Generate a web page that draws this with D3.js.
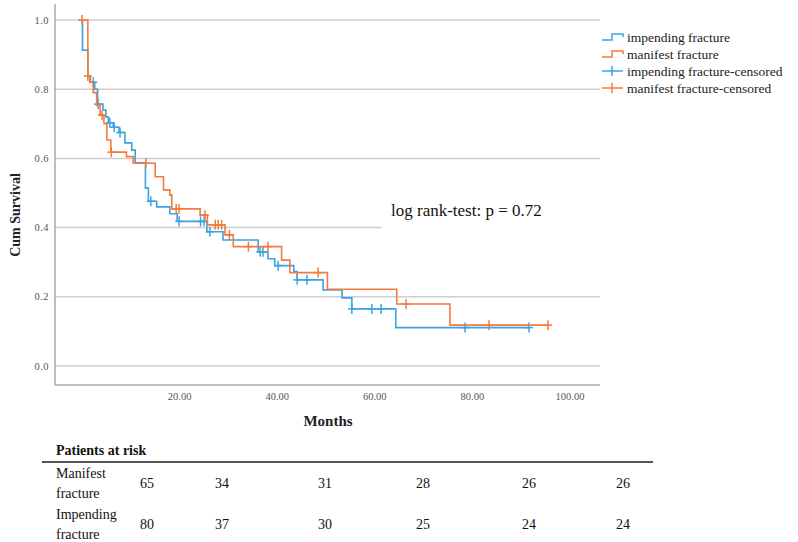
<!DOCTYPE html>
<html><head><meta charset="utf-8">
<script src="https://cdn.jsdelivr.net/npm/d3@7/dist/d3.min.js"></script>
<style>body{margin:0;background:#fff}svg{display:block}
svg text{font-family:"Liberation Serif","DejaVu Serif",serif}</style>
</head><body><svg id="c" width="798" height="542"></svg>
<script>
// ---- data ----
const impTimes = [0, 0.1, 1.2, 1.7, 2.6, 3.2, 4.3, 4.9, 5.4, 6.4, 7.6, 8.8, 10.2, 10.9, 13.0, 13.6, 15.3, 18.0, 19.5, 25.6, 28.9, 36.1, 38.1, 39.5, 43.4, 44.1, 49.4, 53.3, 55.3, 64.3];
const impSurv  = [1.0, 0.913, 0.838, 0.82, 0.80, 0.757, 0.74, 0.72, 0.703, 0.69, 0.675, 0.645, 0.624, 0.587, 0.514, 0.476, 0.46, 0.44, 0.418, 0.388, 0.364, 0.33, 0.31, 0.29, 0.273, 0.249, 0.22, 0.197, 0.165, 0.111];
const impCensored = [2.3, 3.3, 5.7, 6.6, 7.8, 14.1, 19.9, 24.3, 25.0, 26.2, 36.5, 37.1, 40.2, 44.1, 46.1, 55.3, 59.4, 61.3, 78.5, 91.6];
const manTimes = [0, 1.2, 1.6, 2.3, 3.0, 3.7, 4.5, 5.1, 5.9, 9.1, 10.5, 15.0, 16.7, 18.0, 18.4, 24.2, 25.7, 29.3, 31.0, 40.9, 42.6, 50.3, 64.5, 75.4];
const manSurv  = [1.0, 0.838, 0.82, 0.79, 0.754, 0.725, 0.70, 0.653, 0.618, 0.605, 0.586, 0.547, 0.509, 0.494, 0.454, 0.436, 0.408, 0.379, 0.345, 0.306, 0.27, 0.222, 0.179, 0.118];
const manCensored = [0, 1.2, 4.1, 6.0, 13.1, 19.3, 19.9, 25.2, 27.3, 27.9, 28.6, 30.2, 34.1, 38.1, 48.4, 66.4, 83.4, 95.5];
const xTicks = [20, 40, 60, 80, 100];
const yTicks = [0, 0.2, 0.4, 0.6, 0.8, 1.0];
const legendLabels = ["impending fracture", "manifest fracture", "impending fracture-censored", "manifest fracture-censored"];
const riskRows = ["Manifest\nfracture", "Impending\nfracture"];
const riskManifest = [65, 34, 31, 28, 26, 26];
const riskImpending = [80, 37, 30, 25, 24, 24];
const pText = "log rank-test: p = 0.72";

// ---- layout ----
const BLUE = "#3aa3e3", ORANGE = "#f47a3e";
const riskColX = [147, 222, 325, 423, 529, 623];

const svg = d3.select("#c");
const x = d3.scaleLinear().domain([0, 100]).range([82, 570]);
const y = d3.scaleLinear().domain([0, 1]).range([366, 20]);
const left = 55, right = 600, bottom = 385;

// gridlines
svg.append("g").selectAll("line").data(yTicks).join("line")
  .attr("x1", left).attr("x2", right)
  .attr("y1", d => y(d)).attr("y2", d => y(d))
  .attr("stroke", "#cfcfcf").attr("stroke-width", 1.5);

// white box behind annotation (hides part of the 0.4 gridline)
svg.append("rect").attr("x", 382).attr("y", 190).attr("width", right - 382 + 1).attr("height", 45).attr("fill", "#fff");

// axes lines
svg.append("line").attr("x1", left).attr("x2", left).attr("y1", 4).attr("y2", bottom)
  .attr("stroke", "#a8a8a8").attr("stroke-width", 1.5);
svg.append("line").attr("x1", left).attr("x2", right).attr("y1", bottom).attr("y2", bottom)
  .attr("stroke", "#a8a8a8").attr("stroke-width", 1.5);

// tick labels
svg.append("g").selectAll("text").data(yTicks).join("text")
  .attr("x", 49).attr("y", d => y(d)).attr("dy", "0.35em")
  .attr("text-anchor", "end").attr("font-size", 10.5)
  .attr("fill", "#555").attr("letter-spacing", "0.5px").text(d => d.toFixed(1));
svg.append("g").selectAll("text").data(xTicks).join("text")
  .attr("x", d => x(d)).attr("y", 396).attr("dy", "0.35em")
  .attr("text-anchor", "middle").attr("font-size", 10.5)
  .attr("fill", "#555").text(d => d.toFixed(2));

// axis titles
svg.append("text").attr("transform", "translate(15,215) rotate(-90)")
  .attr("text-anchor", "middle").attr("dy", "0.35em")
  .attr("font-weight", "bold").attr("font-size", 14).attr("fill", "#222").text("Cum Survival");
svg.append("text").attr("x", 328).attr("y", 421).attr("dy", "0.35em").attr("text-anchor", "middle")
  .attr("font-weight", "bold").attr("font-size", 15).attr("fill", "#222").text("Months");

// curves
function stepAt(times, surv, t) {
  let v = surv[0];
  for (let i = 0; i < times.length; i++) if (times[i] <= t) v = surv[i];
  return v;
}
function drawCurve(times, surv, cens, color) {
  const pts = times.map((t, i) => [t, surv[i]]);
  const lastT = d3.max(cens.concat(times));
  pts.push([lastT, surv[surv.length - 1]]);
  const line = d3.line().x(d => x(d[0])).y(d => y(d[1])).curve(d3.curveStepAfter);
  svg.append("path").attr("d", line(pts)).attr("fill", "none")
    .attr("stroke", color).attr("stroke-width", 1.6);
  const g = svg.append("g").attr("stroke", color).attr("stroke-width", 1.5);
  cens.forEach(t => {
    const cx = x(t), cy = y(stepAt(times, surv, t));
    g.append("line").attr("x1", cx - 4).attr("x2", cx + 4).attr("y1", cy).attr("y2", cy);
    g.append("line").attr("x1", cx).attr("x2", cx).attr("y1", cy - 5).attr("y2", cy + 5);
  });
}
drawCurve(impTimes, impSurv, impCensored, BLUE);
drawCurve(manTimes, manSurv, manCensored, ORANGE);

// annotation
svg.append("text").attr("x", 391).attr("y", 210).attr("dy", "0.35em")
  .attr("font-size", 17).attr("fill", "#111").text(pText);

// legend
const legY = [37, 54, 71, 88];
const legColors = [BLUE, ORANGE, BLUE, ORANGE];
legendLabels.forEach((lab, i) => {
  const ly = legY[i];
  if (i < 2) {
    svg.append("path").attr("d", `M602,${ly + 3}H612V${ly - 3}H623V${ly}`)
      .attr("fill", "none").attr("stroke", legColors[i]).attr("stroke-width", 1.5);
  } else {
    svg.append("line").attr("x1", 602).attr("x2", 623).attr("y1", ly).attr("y2", ly)
      .attr("stroke", legColors[i]).attr("stroke-width", 1.5);
    svg.append("line").attr("x1", 612).attr("x2", 612).attr("y1", ly - 5).attr("y2", ly + 5)
      .attr("stroke", legColors[i]).attr("stroke-width", 1.5);
  }
  svg.append("text").attr("x", 627).attr("y", ly).attr("dy", "0.35em")
    .attr("font-size", 13.5).attr("fill", "#222").text(lab);
});

// risk table
svg.append("text").attr("x", 56).attr("y", 450).attr("dy", "0.35em")
  .attr("font-weight", "bold").attr("font-size", 14).attr("fill", "#111")
  .text("Patients at risk");
svg.append("line").attr("x1", 42).attr("x2", 653).attr("y1", 462).attr("y2", 462)
  .attr("stroke", "#555").attr("stroke-width", 2);
const rowY = [483, 524];
[riskManifest, riskImpending].forEach((vals, r) => {
  const lines = riskRows[r].split("\n");
  lines.forEach((l, k) => {
    svg.append("text").attr("x", 56).attr("y", rowY[r] - 10 + k * 20).attr("dy", "0.35em")
      .attr("font-size", 14).attr("fill", "#111").text(l);
  });
  svg.append("g").selectAll("text").data(vals).join("text")
    .attr("x", (d, i) => riskColX[i]).attr("y", rowY[r]).attr("dy", "0.35em")
    .attr("text-anchor", "middle").attr("font-size", 14)
    .attr("fill", "#111").text(d => d);
});
</script></body></html>
